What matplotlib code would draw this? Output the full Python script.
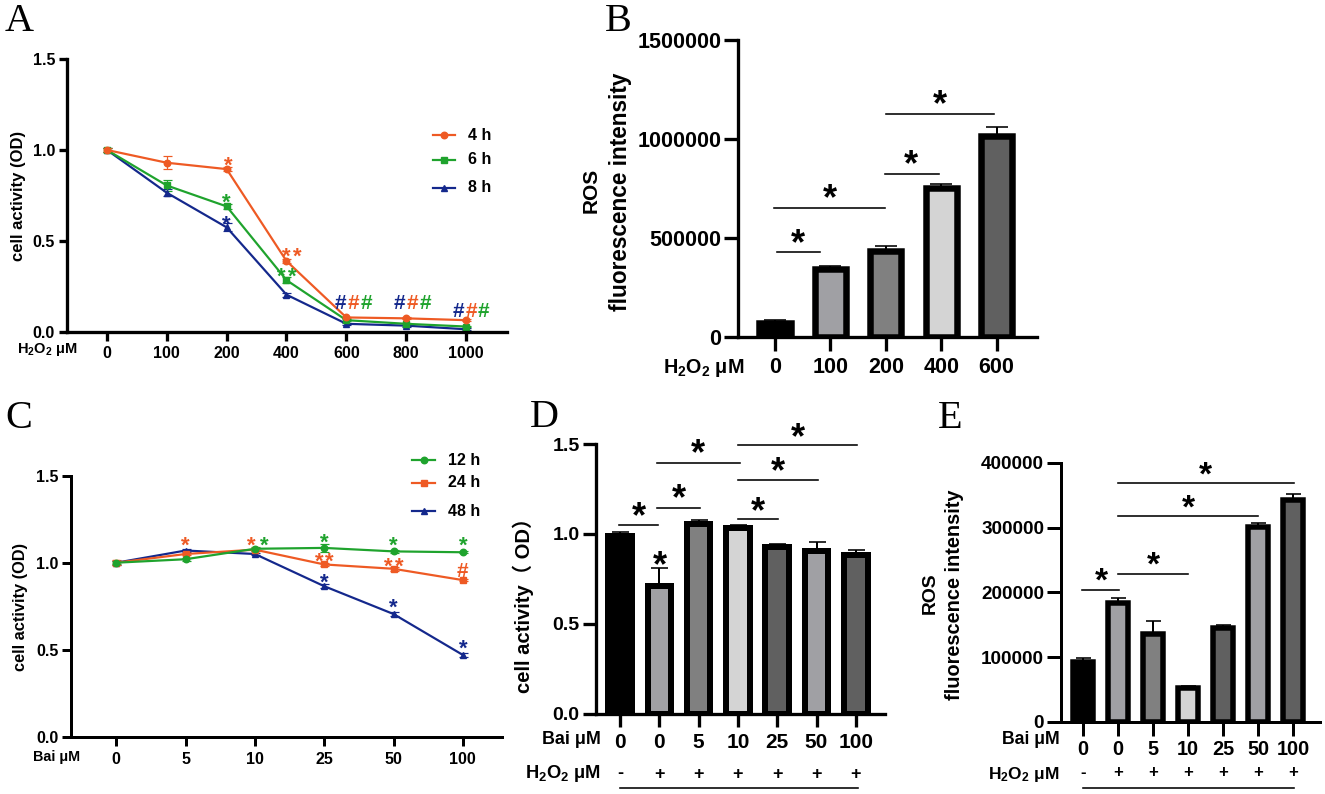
import matplotlib
matplotlib.use("Agg")
import matplotlib.pyplot as plt
from matplotlib.font_manager import FontProperties
from matplotlib.lines import Line2D
from matplotlib.textpath import TextPath

W, H = 1325, 794

plt.rcParams['font.family'] = ['Liberation Sans', 'Noto Sans CJK SC', 'DejaVu Sans']
plt.rcParams['font.weight'] = 'bold'
plt.rcParams['mathtext.default'] = 'regular'

ORANGE = '#ee5a24'
GREEN = '#1fa32d'
BLUE = '#14288c'
H2O2 = r'H$_2$O$_2$ μM'

# panel A
a_labels = ['0', '100', '200', '400', '600', '800', '1000']
a_4h = [1.0, 0.93, 0.895, 0.39, 0.08, 0.075, 0.065]
a_6h = [1.0, 0.805, 0.69, 0.285, 0.065, 0.045, 0.03]
a_8h = [1.0, 0.765, 0.575, 0.205, 0.045, 0.035, 0.015]
a_4h_err = [0.01, 0.036, 0.01, 0.012, 0.005, 0.005, 0.005]
a_6h_err = [0.01, 0.028, 0.012, 0.015, 0.006, 0.005, 0.005]
a_8h_err = [0.012, 0.018, 0.022, 0.012, 0.006, 0.006, 0.005]
a_marks = [(2.02, 0.94, '*', ORANGE), (1.99, 0.74, '*', GREEN), (1.99, 0.618, '*', BLUE),
           (3.0, 0.44, '*', ORANGE), (3.18, 0.44, '*', ORANGE),
           (2.91, 0.334, '*', GREEN), (3.09, 0.334, '*', GREEN),
           (3.9, 0.165, '#', BLUE), (4.12, 0.165, '#', ORANGE), (4.33, 0.165, '#', GREEN),
           (4.89, 0.165, '#', BLUE), (5.11, 0.165, '#', ORANGE), (5.32, 0.165, '#', GREEN),
           (5.87, 0.119, '#', BLUE), (6.09, 0.119, '#', ORANGE), (6.30, 0.119, '#', GREEN)]

# panel C
c_labels = ['0', '5', '10', '25', '50', '100']
c_12h = [1.0, 1.02, 1.08, 1.085, 1.065, 1.06]
c_24h = [1.0, 1.05, 1.075, 0.99, 0.965, 0.90]
c_48h = [1.0, 1.07, 1.05, 0.865, 0.705, 0.47]
c_12h_err = [0.01, 0.008, 0.01, 0.025, 0.008, 0.005]
c_24h_err = [0.015, 0.008, 0.01, 0.01, 0.012, 0.008]
c_48h_err = [0.012, 0.01, 0.008, 0.012, 0.012, 0.01]
c_marks = [(1, 1.13, '*', ORANGE), (1.95, 1.13, '*', ORANGE), (2.13, 1.13, '*', GREEN),
           (3.0, 1.142, '*', GREEN), (2.93, 1.038, '*', ORANGE), (3.08, 1.038, '*', ORANGE),
           (3.0, 0.916, '*', BLUE), (4, 1.13, '*', GREEN),
           (3.93, 1.004, '*', ORANGE), (4.08, 1.004, '*', ORANGE), (4, 0.772, '*', BLUE),
           (5, 1.13, '*', GREEN), (5, 0.958, '#', ORANGE), (5, 0.533, '*', BLUE)]

# panel B
b_labels = ['0', '100', '200', '400', '600']
b_values = [70000, 341000, 436000, 753000, 1015000]
b_err = [15000, 17000, 23000, 18000, 45000]
b_colors = ['#000000', '#a0a0a4', '#808080', '#d4d4d4', '#606060']
b_lines = [(0.03, 0.81, 428000), (-0.02, 1.99, 649000), (1.98, 2.96, 820000), (2.0, 3.96, 1124000)]
b_stars = [(0.42, 507000), (0.99, 738000), (2.46, 906000), (2.97, 1210000)]

# panel D
d_labels = ['0', '0', '5', '10', '25', '50', '100']
d_signs = ['-', '+', '+', '+', '+', '+', '+']
d_values = [0.99, 0.712, 1.055, 1.033, 0.926, 0.903, 0.885]
d_err = [0.02, 0.098, 0.025, 0.017, 0.02, 0.05, 0.028]
d_colors = ['#000000', '#a0a0a4', '#808080', '#d4d4d4', '#606060', '#a0a0a4', '#606060']
d_lines = [(-0.02, 0.97, 1.052), (0.95, 2.03, 1.145), (0.95, 3.05, 1.397),
           (3.0, 4.03, 1.083), (3.0, 5.04, 1.30), (3.0, 6.04, 1.492)]
d_stars = [(0.48, 1.14), (1.49, 1.237), (1.99, 1.488), (3.5, 1.169), (4.03, 1.391), (4.53, 1.577), (1.02, 0.866)]

# panel E
e_labels = ['0', '0', '5', '10', '25', '50', '100']
e_signs = ['-', '+', '+', '+', '+', '+', '+']
e_values = [93000, 183500, 135500, 51700, 145500, 300500, 343500]
e_err = [5000, 8500, 20500, 4000, 4500, 6000, 9000]
e_colors = ['#000000', '#a0a0a4', '#808080', '#d4d4d4', '#606060', '#a0a0a4', '#606060']
e_lines = [(-0.02, 1.03, 203800), (1.0, 3.0, 228600), (1.0, 5.0, 317900), (1.0, 6.02, 369000)]
e_stars = [(0.52, 228000), (2.0, 253000), (3.0, 342000), (3.5, 392000)]

fig = plt.figure(figsize=(W / 100, H / 100), dpi=100)


def pt(px):
    return px * 0.72


def px_text(x, y, s, **kw):
    kw.setdefault('ha', 'center')
    kw.setdefault('va', 'center')
    fig.text(x / W, 1 - y / H, s, **kw)


def make_axes(left, right, top, bottom, x0, step, ymax, yticks, yticklabels, xlabels,
              xsize, ysize, tick_px, spine_px, xpad, ypad):
    ax = fig.add_axes([left / W, 1 - bottom / H, (right - left) / W, (bottom - top) / H])
    ax.patch.set_alpha(0)
    ax.set_xlim((left - x0) / step, (right - x0) / step)
    ax.set_ylim(0, ymax)
    ax.spines[['top', 'right']].set_visible(False)
    ax.spines[['left', 'bottom']].set_linewidth(pt(spine_px))
    ax.set_xticks(range(len(xlabels)), xlabels, fontsize=xsize)
    ax.set_yticks(yticks, yticklabels, fontsize=ysize)
    ax.tick_params(axis='both', length=pt(tick_px), width=pt(spine_px))
    ax.tick_params(axis='x', pad=xpad)
    ax.tick_params(axis='y', pad=ypad)
    return ax


def mark(ax, x, y, s, color, fontsize):
    # centre the glyph itself on x, y, its box is not centred on the baseline
    prop = FontProperties(family='Liberation Sans', weight='bold')
    box = TextPath((0, 0), s, size=fontsize, prop=prop).get_extents()
    ax.annotate(s, (x, y), xytext=(0, -(box.y0 + box.y1) / 2), textcoords='offset points',
                ha='center', va='baseline', color=color, fontsize=fontsize,
                weight='bold', annotation_clip=False)


def draw_line(ax, y, yerr, color, marker):
    x = list(range(len(y)))
    ax.errorbar(x, y, yerr=yerr, color=color, lw=pt(2.2), marker=marker, ms=pt(6.5),
                capsize=pt(4.5), capthick=pt(1.2), elinewidth=pt(1.2), clip_on=False)


def legend_row(x0, x1, xt, y, color, marker, label, fontsize):
    fig.add_artist(Line2D([x0 / W, x1 / W], [1 - y / H, 1 - y / H], color=color, lw=pt(2.2),
                          transform=fig.transFigure))
    fig.add_artist(Line2D([(x0 + x1) / 2 / W], [1 - y / H], color=color, marker=marker, ms=pt(6.5),
                          transform=fig.transFigure))
    px_text(xt, y, label, ha='left', fontsize=fontsize)


def draw_bars(ax, values, err, colors, edge_px, width, cap_px, lines, stars, star_size):
    x = list(range(len(values)))
    ax.errorbar(x, values, yerr=[[0] * len(err), err], fmt='none', ecolor='black',
                elinewidth=pt(2), capsize=pt(cap_px), capthick=pt(1.6), clip_on=False, zorder=1.5)
    ax.bar(x, values, width=width, color=colors, edgecolor='black', linewidth=pt(edge_px), zorder=2)
    for x0, x1, y in lines:
        ax.plot([x0, x1], [y, y], color='black', lw=pt(1.6), clip_on=False)
    for sx, sy in stars:
        mark(ax, sx, sy, '*', 'black', star_size)


# A
ax = make_axes(67, 507, 59, 332, 107, 59.83, 1.5, [0, 0.5, 1.0, 1.5], ['0.0', '0.5', '1.0', '1.5'],
               a_labels, 11.5, 11.5, 8.5, 3.3, 4, 2.5)
draw_line(ax, a_8h, a_8h_err, BLUE, '^')
draw_line(ax, a_6h, a_6h_err, GREEN, 's')
draw_line(ax, a_4h, a_4h_err, ORANGE, 'o')
for x, y, s, c in a_marks:
    mark(ax, x, y, s, c, 16 if s == '*' else 15)
px_text(19, 196, 'cell activity (OD)', rotation=90, fontsize=12)
px_text(17, 350, H2O2, ha='left', fontsize=10.5)
legend_row(433, 455, 468, 135, ORANGE, 'o', '4 h', 11.5)
legend_row(433, 455, 468, 160, GREEN, 's', '6 h', 11.5)
legend_row(433, 455, 468, 188, BLUE, '^', '8 h', 11.5)

# C
ax = make_axes(71, 502, 475.7, 736.7, 116.3, 69.3, 1.5, [0, 0.5, 1.0, 1.5], ['0.0', '0.5', '1.0', '1.5'],
               c_labels, 11.5, 11.5, 9, 3, 4.5, 2.5)
draw_line(ax, c_48h, c_48h_err, BLUE, '^')
draw_line(ax, c_24h, c_24h_err, ORANGE, 's')
draw_line(ax, c_12h, c_12h_err, GREEN, 'o')
for x, y, s, c in c_marks:
    mark(ax, x, y, s, c, 16 if s == '*' else 15)
px_text(21, 607, 'cell activity (OD)', rotation=90, fontsize=11.8)
px_text(33, 757, 'Bai μM', ha='left', fontsize=10.4)
legend_row(412, 435, 448, 460, GREEN, 'o', '12 h', 11.5)
legend_row(412, 435, 448, 483, ORANGE, 's', '24 h', 11.5)
legend_row(412, 435, 448, 511, BLUE, '^', '48 h', 11.5)

# B
ax = make_axes(738, 1037, 39.5, 337, 775, 55.4, 1500000, [0, 500000, 1000000, 1500000],
               ['0', '500000', '1000000', '1500000'], b_labels, 15.5, 15.5, 14, 3.3, 4, 2)
draw_bars(ax, b_values, b_err, b_colors, 6.5, 0.565, 11.5, b_lines, b_stars, 26)
px_text(591, 190, 'ROS', rotation=90, fontsize=15)
px_text(620, 192, 'fluorescence intensity', rotation=90, fontsize=16.3)
px_text(744, 368, H2O2, ha='right', fontsize=14.2)

# D
ax = make_axes(596, 885, 444, 714, 620, 39.3, 1.5, [0, 0.5, 1.0, 1.5], ['0.0', '0.5', '1.0', '1.5'],
               d_labels, 15, 14, 13.5, 3.3, 4, 2)
draw_bars(ax, d_values, d_err, d_colors, 6, 0.6, 8.5, d_lines, d_stars, 26)
for i, s in enumerate(d_signs):
    ax.annotate(s, (i, 0), xytext=(620 + i * 39.3, H - 774), xycoords='data',
                textcoords='figure pixels', ha='center', va='center', fontsize=13)
px_text(523, 600, 'cell activity（ OD）', rotation=90, fontsize=14.6)
px_text(601, 740, 'Bai μM', ha='right', fontsize=12.9)
px_text(601, 774, H2O2, ha='right', fontsize=13.2)
fig.add_artist(Line2D([620 / W, 858 / W], [1 - 788 / H, 1 - 788 / H], color='black', lw=pt(1.6)))

# E
ax = make_axes(1061, 1320, 463, 721.7, 1083, 35, 400000, [0, 100000, 200000, 300000, 400000],
               ['0', '100000', '200000', '300000', '400000'], e_labels, 14.3, 13.6, 14, 3, 3, 2)
draw_bars(ax, e_values, e_err, e_colors, 5.5, 0.57, 7.5, e_lines, e_stars, 24)
for i, s in enumerate(e_signs):
    ax.annotate(s, (i, 0), xytext=(1083 + i * 35, H - 773), xycoords='data',
                textcoords='figure pixels', ha='center', va='center', fontsize=12)
px_text(930, 593, 'ROS', rotation=90, fontsize=13.9)
px_text(955, 595, 'fluorescence intensity', rotation=90, fontsize=14.4)
px_text(1060, 740, 'Bai μM', ha='right', fontsize=12.7)
px_text(1060, 774, H2O2, ha='right', fontsize=12.5)
fig.add_artist(Line2D([1083 / W, 1294 / W], [1 - 788 / H, 1 - 788 / H], color='black', lw=pt(1.6)))

# panel letters
for x, y, s in [(5, 31, 'A'), (605, 31, 'B'), (5, 428, 'C'), (530, 427, 'D'), (938, 428, 'E')]:
    px_text(x, y, s, ha='left', va='baseline', family='Liberation Serif', weight='normal', fontsize=29)

fig.savefig('out.png', dpi=100)
